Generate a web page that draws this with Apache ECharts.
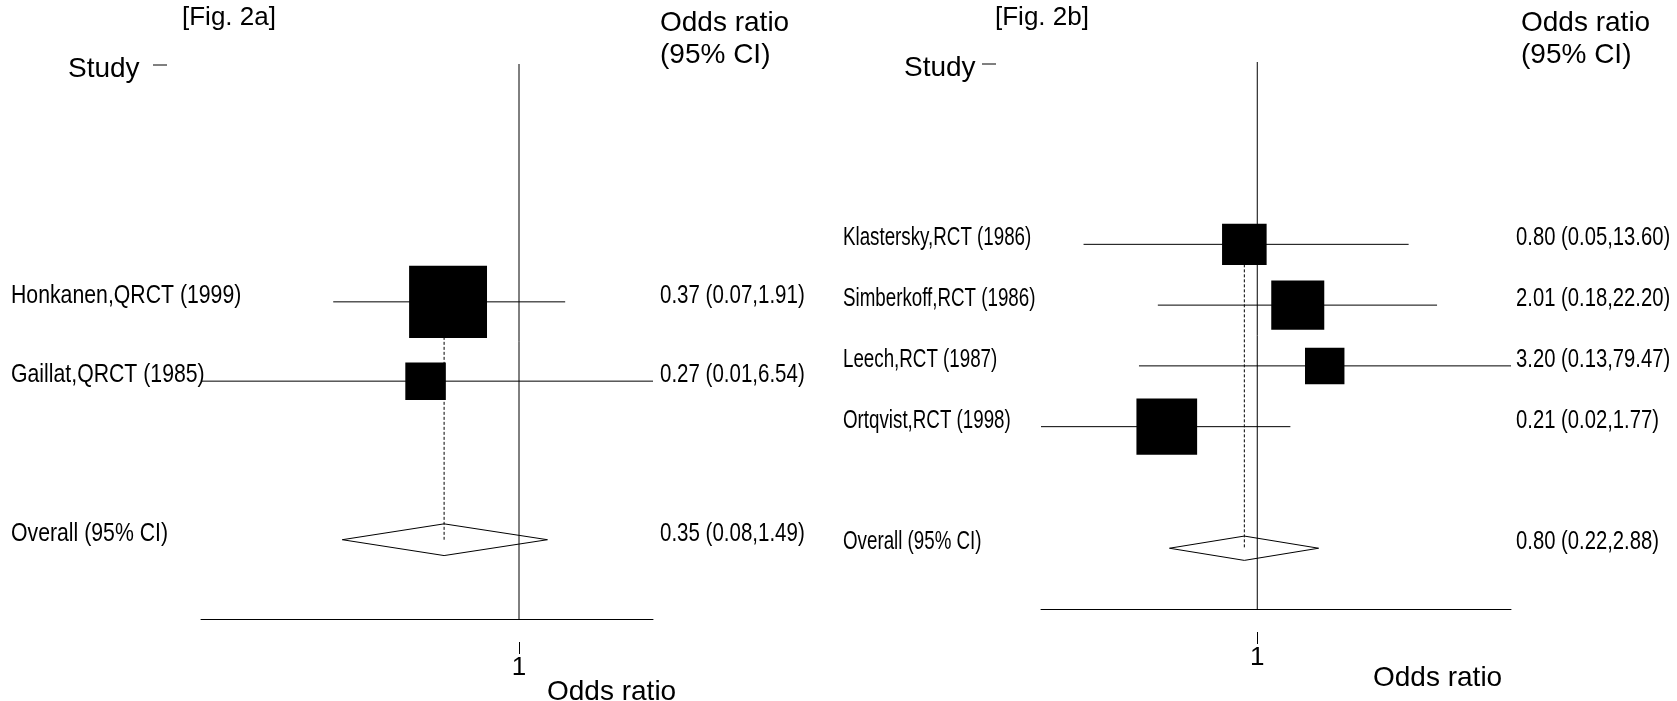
<!DOCTYPE html>
<html><head><meta charset="utf-8">
<script src="https://cdn.jsdelivr.net/npm/echarts@6/dist/echarts.min.js"></script>
<style>html,body{margin:0;padding:0;background:#fff}#c{width:1677px;height:701px}</style>
</head><body><div id="c"></div>
<script>
// ---- Fig. 2a data ----
const studiesA = ['Honkanen,QRCT (1999)', 'Gaillat,QRCT (1985)'];
const orA = [0.37, 0.27];
const lowA = [0.074, 0.0116];
const highA = [1.91, 6.54];
const weightA = [78.7, 21.3];
const rowA = [3, 4];
const overallA = [0.35, 0.084, 1.49]; // estimate, low, high
const overallRowA = 6;

// ---- Fig. 2b data ----
const studiesB = ['Klastersky,RCT (1986)', 'Simberkoff,RCT (1986)', 'Leech,RCT (1987)', 'Ortqvist,RCT (1998)'];
const orB = [0.80, 2.01, 3.20, 0.21];
const lowB = [0.05, 0.18, 0.13, 0.024];
const highB = [13.60, 22.20, 79.47, 1.77];
const weightB = [19.8, 28.0, 15.5, 36.7];
const rowB = [3, 4, 5, 6];
const overallB = [0.80, 0.22, 2.88];
const overallRowB = 8;

const overallLabel = 'Overall (95% CI)';
const refTick = [1];

const SANS = '"Liberation Sans", Arial, sans-serif';
const L = Math.log10;

function fmt(e, l, h) { return e.toFixed(2) + ' (' + l.toFixed(2) + ',' + h.toFixed(2) + ')'; }

// odds ratios are placed on a logarithmic scale: the value axes below work in log10(odds ratio)
function panel(idx, studies, ors, lows, highs, weights, rows, overall, overallRow, lay) {
  const leftText = studies.concat([overallLabel]);
  const rightText = studies.map((s, i) => fmt(ors[i], lows[i], highs[i])).concat([fmt(overall[0], overall[1], overall[2])]);
  const labelRows = rows.concat([overallRow]);
  const xmin = L(Math.min(...lows, overall[1]));
  const xmax = L(Math.max(...highs, overall[2]));
  const ymax = overallRow + 1;
  const xBase = {
    type: 'value', min: xmin, max: xmax, gridIndex: idx, position: 'bottom',
    splitLine: { show: false }, axisTick: { show: false }, axisLabel: { show: false },
    axisLine: { show: true, onZero: false, lineStyle: { color: '#000', width: 1 } }
  };
  const xTick = {
    type: 'value', min: xmin, max: xmax, gridIndex: idx, offset: 23, position: 'bottom',
    splitLine: { show: false }, axisLine: { show: false, onZero: false },
    axisTick: { show: true, customValues: refTick.map(L), length: 12, lineStyle: { color: '#000', width: 1 } },
    axisLabel: { show: true, customValues: refTick.map(L), margin: 13, color: '#000', fontFamily: SANS, fontSize: 26,
      formatter: v => String(Math.round(Math.pow(10, v))) }
  };
  const yAx = {
    type: 'value', gridIndex: idx, inverse: true, min: 0, max: ymax,
    axisLine: { show: false }, axisTick: { show: false }, splitLine: { show: false }, axisLabel: { show: false }
  };
  const ciData = studies.map((s, i) => [L(ors[i]), L(lows[i]), L(highs[i]), rows[i], weights[i]]);
  const labelData = labelRows.map(r => [xmin, r]);
  function textEl(x, y, t, sx) {
    return { type: 'text', x: x, y: y, scaleX: sx,
      style: { text: t, font: lay.fs + 'px ' + SANS, fill: '#000', verticalAlign: 'middle', align: 'left' } };
  }
  const series = [
    { type: 'line', data: [[0, 0], [0, ymax]], symbol: 'none', silent: true,
      lineStyle: { color: '#000', width: 1 }, z: 1 },
    { type: 'line', data: [[L(overall[0]), rows[0]], [L(overall[0]), overallRow]], symbol: 'none', silent: true,
      lineStyle: { color: '#000', width: 1, type: [3, 2] }, z: 2 },
    { type: 'line', symbol: 'none', silent: true,
      data: [[L(overall[1]), overallRow], [L(overall[0]), overallRow - 0.2], [L(overall[2]), overallRow], [L(overall[0]), overallRow + 0.2], [L(overall[1]), overallRow]],
      lineStyle: { color: '#000', width: 1 }, z: 3 },
    { type: 'custom', data: ciData, z: 4, clip: false,
      renderItem: function (params, api) {
        const e = api.value(0), lo = api.value(1), hi = api.value(2), r = api.value(3), w = api.value(4);
        const pL = api.coord([lo, r]), pH = api.coord([hi, r]), pE = api.coord([e, r]);
        const area = lay.box * lay.box * w;
        const h = Math.sqrt(area / 1.08), bw = h * 1.08;
        return { type: 'group', children: [
          { type: 'line', shape: { x1: pL[0], y1: pL[1], x2: pH[0], y2: pH[1] }, style: { stroke: '#000', lineWidth: 1 } },
          { type: 'rect', shape: { x: pE[0] - bw / 2, y: pE[1] - h / 2, width: bw, height: h }, style: { fill: '#000' } }
        ] };
      } },
    { type: 'custom', data: labelData, z: 5, clip: false, silent: true,
      renderItem: function (params, api) {
        const p = api.coord([api.value(0), api.value(1)]);
        const i = params.dataIndex;
        return { type: 'group', children: [
          textEl(lay.leftX, p[1] + lay.dy, leftText[i], lay.sxL),
          textEl(lay.rightX, p[1] + lay.dy, rightText[i], lay.sxR)
        ] };
      } }
  ];
  series.forEach(s => { s.xAxisIndex = idx * 2; s.yAxisIndex = idx; });
  return { grid: lay.grid, xAxes: [xBase, xTick], yAxes: [yAx], series: series };
}

const pA = panel(0, studiesA, orA, lowA, highA, weightA, rowA, overallA, overallRowA,
  { grid: { left: 201, top: 64, width: 452, height: 555 }, box: 8.45, fs: 25, leftX: 11, rightX: 660, sxL: 0.85, sxR: 0.82, dy: -6 });
const pB = panel(1, studiesB, orB, lowB, highB, weightB, rowB, overallB, overallRowB,
  { grid: { left: 1041, top: 62, width: 470, height: 547 }, box: 9.64, fs: 25, leftX: 843, rightX: 1516, sxL: 0.75, sxR: 0.81, dy: -6 });

function txt(x, y, t, size) {
  return { type: 'text', x: x, y: y, style: { text: t, font: size + 'px ' + SANS, fill: '#000', verticalAlign: 'middle' } };
}
function dash(x1, x2, y) {
  return { type: 'line', shape: { x1: x1, y1: y, x2: x2, y2: y }, style: { stroke: '#000', lineWidth: 1 } };
}

const chart = echarts.init(document.getElementById('c'), null, { renderer: 'canvas' });
chart.setOption({
  backgroundColor: '#fff',
  animation: false,
  grid: [pA.grid, pB.grid],
  xAxis: pA.xAxes.concat(pB.xAxes),
  yAxis: pA.yAxes.concat(pB.yAxes),
  series: pA.series.concat(pB.series),
  graphic: [
    txt(182, 18, '[Fig. 2a]', 26),
    txt(660, 23, 'Odds ratio', 28),
    txt(660, 55, '(95% CI)', 28),
    txt(68, 69, 'Study', 28),
    dash(153, 167, 65),
    txt(547, 692, 'Odds ratio', 28),
    txt(995, 18, '[Fig. 2b]', 26),
    txt(1521, 23, 'Odds ratio', 28),
    txt(1521, 55, '(95% CI)', 28),
    txt(904, 68, 'Study', 28),
    dash(982, 996, 64),
    txt(1373, 678, 'Odds ratio', 28)
  ]
});
</script></body></html>
